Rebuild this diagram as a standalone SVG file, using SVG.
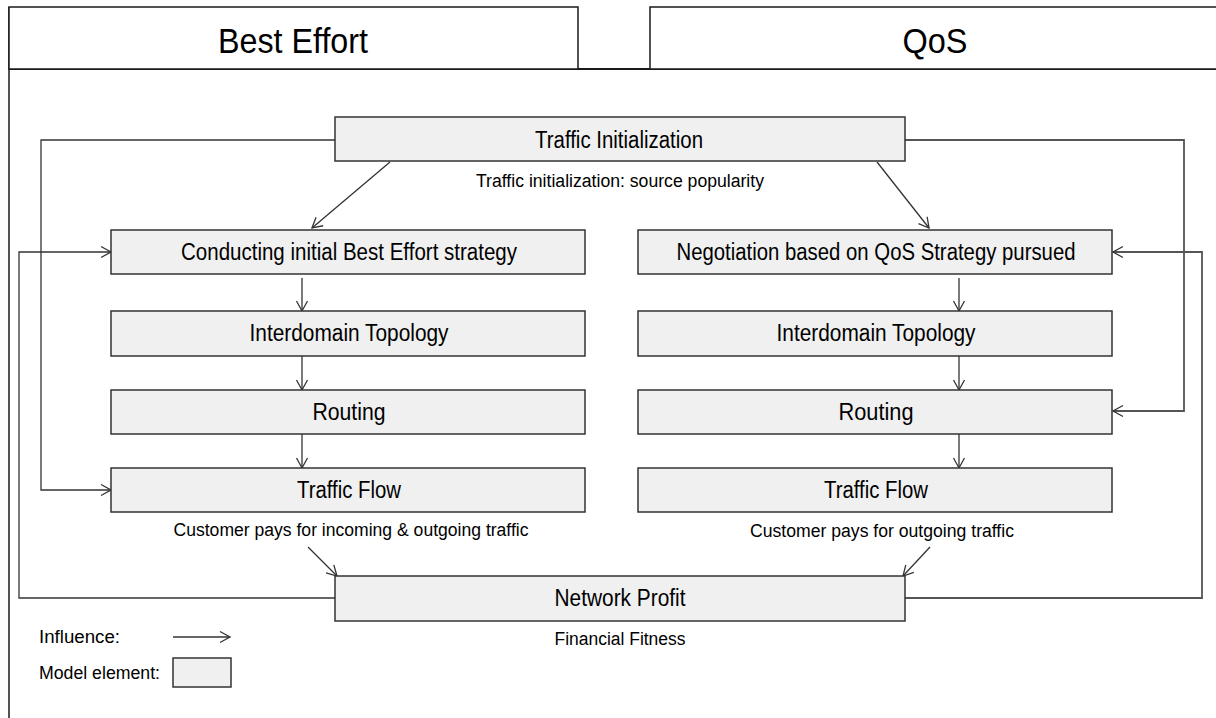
<svg xmlns="http://www.w3.org/2000/svg" width="1216" height="718" viewBox="0 0 1216 718">
  <style>
    .bg { fill: #ffffff; }
    .frame { fill: none; stroke: #1a1a1a; stroke-width: 1.5; }
    .hdr { fill: #ffffff; stroke: #1a1a1a; stroke-width: 1.5; }
    .hdrtext { font-family: "Liberation Sans Narrow", "Liberation Sans", Arial, sans-serif; font-size: 35px; fill: #000; text-anchor: middle; }
    .box { fill: #f0f0f0; stroke: #333333; stroke-width: 1.5; }
    .label { font-family: "Liberation Sans Narrow", "Liberation Sans", Arial, sans-serif; font-size: 23px; fill: #000; text-anchor: middle; }
    .note { font-family: "Liberation Sans Narrow", "Liberation Sans", Arial, sans-serif; font-size: 18px; fill: #000; }
    .mid { text-anchor: middle; }
    .conn { fill: none; stroke: #333333; stroke-width: 1.3; }
    .conn2 { fill: none; stroke: #555555; stroke-width: 1.8; }
  </style>
  <defs>
    <marker id="arr" viewBox="-12 -7 14 14" refX="0" refY="0" markerWidth="14" markerHeight="14" markerUnits="userSpaceOnUse" orient="auto">
      <path d="M-10,-5.5 L0,0 L-10,5.5" fill="none" stroke="#333333" stroke-width="1.3"/>
    </marker>
  </defs>

  <rect class="bg" x="0" y="0" width="1216" height="718"/>

  <!-- frame and headers -->
  <g id="frame">
    <line class="frame" x1="9" y1="7" x2="9" y2="718"/>
    <line x1="9" y1="69" x2="1216" y2="69" stroke="#1a1a1a" stroke-width="2"/>
  </g>
  <g id="header-best-effort">
    <rect class="hdr" x="9" y="7" width="569" height="62"/>
    <text class="hdrtext" x="293" y="53" textLength="150" lengthAdjust="spacingAndGlyphs">Best Effort</text>
  </g>
  <g id="header-qos">
    <rect class="hdr" x="650" y="7" width="580" height="62"/>
    <text class="hdrtext" x="935" y="53" textLength="65" lengthAdjust="spacingAndGlyphs">QoS</text>
  </g>

  <!-- connectors -->
  <g id="connectors">
    <polyline class="conn" points="335,140 41,140 41,490 111,490" marker-end="url(#arr)"/>
    <polyline class="conn2" points="905,140 1184,140 1184,411 1113,411" marker-end="url(#arr)"/>
    <line class="conn" x1="390" y1="162" x2="312" y2="228" marker-end="url(#arr)"/>
    <line class="conn" x1="877" y1="162" x2="929" y2="228" marker-end="url(#arr)"/>
    <line class="conn" x1="302" y1="278" x2="302" y2="311" marker-end="url(#arr)"/>
    <line class="conn" x1="302" y1="356" x2="302" y2="390" marker-end="url(#arr)"/>
    <line class="conn" x1="302" y1="434" x2="302" y2="468" marker-end="url(#arr)"/>
    <line class="conn" x1="959" y1="278" x2="959" y2="311" marker-end="url(#arr)"/>
    <line class="conn" x1="959" y1="356" x2="959" y2="390" marker-end="url(#arr)"/>
    <line class="conn" x1="959" y1="434" x2="959" y2="468" marker-end="url(#arr)"/>
    <line class="conn" x1="308" y1="547" x2="337" y2="576" marker-end="url(#arr)"/>
    <line class="conn" x1="930" y1="547" x2="903" y2="576" marker-end="url(#arr)"/>
    <polyline class="conn" points="335,598 19,598 19,252 111,252" marker-end="url(#arr)"/>
    <polyline class="conn2" points="905,598 1202,598 1202,252 1113,252" marker-end="url(#arr)"/>
  </g>

  <!-- nodes -->
  <g id="traffic-initialization">
    <rect class="box" x="335" y="117" width="570" height="44"/>
    <text class="label" x="619" y="147.5" textLength="168" lengthAdjust="spacingAndGlyphs">Traffic Initialization</text>
    <text class="note mid" x="620" y="187" textLength="288" lengthAdjust="spacingAndGlyphs">Traffic initialization: source popularity</text>
  </g>
  <g id="be-conducting">
    <rect class="box" x="111" y="230" width="474" height="44"/>
    <text class="label" x="349" y="260" textLength="336" lengthAdjust="spacingAndGlyphs">Conducting initial Best Effort strategy</text>
  </g>
  <g id="be-topology">
    <rect class="box" x="111" y="311" width="474" height="45"/>
    <text class="label" x="349" y="341" textLength="199" lengthAdjust="spacingAndGlyphs">Interdomain Topology</text>
  </g>
  <g id="be-routing">
    <rect class="box" x="111" y="390" width="474" height="44"/>
    <text class="label" x="349" y="420" textLength="73" lengthAdjust="spacingAndGlyphs">Routing</text>
  </g>
  <g id="be-traffic-flow">
    <rect class="box" x="111" y="468" width="474" height="44"/>
    <text class="label" x="349" y="498" textLength="104" lengthAdjust="spacingAndGlyphs">Traffic Flow</text>
    <text class="note mid" x="351" y="536" textLength="355" lengthAdjust="spacingAndGlyphs">Customer pays for incoming &amp; outgoing traffic</text>
  </g>
  <g id="qos-negotiation">
    <rect class="box" x="638" y="230" width="474" height="44"/>
    <text class="label" x="876" y="260" textLength="399" lengthAdjust="spacingAndGlyphs">Negotiation based on QoS Strategy pursued</text>
  </g>
  <g id="qos-topology">
    <rect class="box" x="638" y="311" width="474" height="45"/>
    <text class="label" x="876" y="341" textLength="199" lengthAdjust="spacingAndGlyphs">Interdomain Topology</text>
  </g>
  <g id="qos-routing">
    <rect class="box" x="638" y="390" width="474" height="44"/>
    <text class="label" x="876" y="420" textLength="75" lengthAdjust="spacingAndGlyphs">Routing</text>
  </g>
  <g id="qos-traffic-flow">
    <rect class="box" x="638" y="468" width="474" height="44"/>
    <text class="label" x="876" y="498" textLength="104" lengthAdjust="spacingAndGlyphs">Traffic Flow</text>
    <text class="note mid" x="882" y="537" textLength="264" lengthAdjust="spacingAndGlyphs">Customer pays for outgoing traffic</text>
  </g>
  <g id="network-profit">
    <rect class="box" x="335" y="576" width="570" height="45"/>
    <text class="label" x="620" y="606" textLength="131" lengthAdjust="spacingAndGlyphs">Network Profit</text>
    <text class="note mid" x="620" y="645" textLength="131" lengthAdjust="spacingAndGlyphs">Financial Fitness</text>
  </g>

  <!-- legend -->
  <g id="legend">
    <text class="note" x="39" y="643" textLength="81" lengthAdjust="spacingAndGlyphs">Influence:</text>
    <line class="conn" x1="173" y1="637" x2="230" y2="637" marker-end="url(#arr)"/>
    <text class="note" x="39" y="679" textLength="121" lengthAdjust="spacingAndGlyphs">Model element:</text>
    <rect class="box" x="173" y="658" width="58" height="29"/>
  </g>
</svg>
